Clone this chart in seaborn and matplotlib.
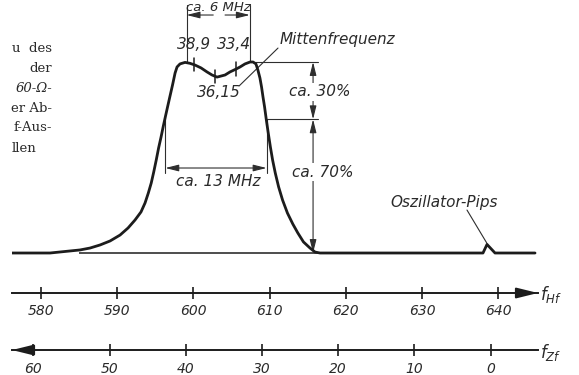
import numpy as np
import pandas as pd
import matplotlib
matplotlib.use("Agg")
import matplotlib.pyplot as plt
import seaborn as sns

# ---------------- data ----------------
# pass-band curve: HF frequency (MHz) and relative amplitude (peak = 1)
curve_f = [576.19, 581.18, 585.12, 586.43, 587.74, 589.06, 590.37, 591.42,
           592.34, 593.12, 593.65, 594.08, 594.46, 594.79, 595.12, 595.43,
           595.75, 596.05, 596.31, 596.60, 596.90, 597.26, 597.59, 597.85,
           598.24, 598.90, 599.55, 600.21, 601.00, 601.78, 602.44, 603.10,
           604.15, 604.80, 605.59, 606.12, 606.77, 607.43, 607.82, 608.20,
           608.46, 608.73, 608.94, 609.13, 609.34, 609.57, 609.82, 610.10,
           610.39, 610.74, 611.18, 611.70, 612.34, 613.04, 613.70, 614.44,
           615.30, 615.96, 616.61, 638.00, 638.53, 639.58, 644.83]
curve_a = [0.0, 0.0, 0.016, 0.026, 0.042, 0.063, 0.094, 0.131,
           0.173, 0.215, 0.262, 0.314, 0.366, 0.424, 0.487, 0.550,
           0.607, 0.665, 0.712, 0.764, 0.817, 0.880, 0.942, 0.974,
           0.990, 0.998, 0.993, 0.984, 0.969, 0.948, 0.932, 0.921,
           0.932, 0.948, 0.963, 0.974, 0.990, 1.0, 1.0, 0.990,
           0.958, 0.916, 0.869, 0.817, 0.764, 0.696, 0.628, 0.555,
           0.487, 0.419, 0.346, 0.277, 0.209, 0.152, 0.105, 0.058,
           0.026, 0.005, 0.0, 0.0, 0.045, 0.0, 0.0]

hf_ticks = [580, 590, 600, 610, 620, 630, 640]
zf_ticks = [60, 50, 40, 30, 20, 10, 0]
osc_freq = 639.0                      # f_Zf = osc_freq - f_Hf

marker_zf = [38.9, 36.15, 33.4]
marker_lbl = ["38,9", "36,15", "33,4"]
peak_f = [599.1, 607.4]               # the two humps (6 MHz dimension)
level_70 = 0.7                        # 30 % below the peaks
bw_f = [596.31, 609.6]                # ca. 13 MHz width
pip_f = 638.53

# ---------------- style ----------------
sns.set_theme(style="white")
plt.rcParams["font.family"] = ["DejaVu Sans"]
dark = "#1c1c1c"
thin = "#2e2e2e"
txt = "#2a2a2a"

fig = plt.figure(figsize=(5.79, 3.75), dpi=100)
fig.patch.set_facecolor("white")
ax = fig.add_axes([12 / 579, 0.0, 526 / 579, 1.0])
ax.set_facecolor("white")
ax.set_xlim(576.19, 645.22)
ax.set_ylim(-0.6387, 1.3246)

df = pd.DataFrame({"f": curve_f, "a": curve_a})
sns.lineplot(data=df, x="f", y="a", ax=ax, color=dark, linewidth=2.0,
             sort=False, legend=False, zorder=5)
for ln in ax.lines:
    ln.set_solid_joinstyle("round")
    ln.set_solid_capstyle("round")
ax.hlines(0, 585.0, 617.0, color=dark, lw=1.1, zorder=4)
ax.set_xlabel("")
ax.set_ylabel("")
ax.set_yticks([])

# ---------------- HF scale (primary x axis) ----------------
a_hf = -0.2094
for s in ["left", "right", "top"]:
    ax.spines[s].set_visible(False)
ax.spines["bottom"].set_position(("data", a_hf))
ax.spines["bottom"].set_linewidth(1.4)
ax.spines["bottom"].set_color(dark)
ax.set_xticks(hf_ticks)
ax.set_xticklabels([str(t) for t in hf_ticks])
ax.tick_params(axis="x", direction="inout", length=8.5, width=1.2,
               color=dark, labelsize=10, labelcolor=txt, pad=3.5, bottom=True)
for lbl in ax.get_xticklabels():
    lbl.set_fontstyle("italic")
ax.annotate("", xy=(645.22, a_hf), xytext=(643.0, a_hf),
            arrowprops=dict(arrowstyle="-|>,head_length=1.3,head_width=0.32",
                            color=dark, lw=1.4, shrinkA=0, shrinkB=0,
                            mutation_scale=10),
            annotation_clip=False)
ax.text(645.5, a_hf - 0.01, r"$f_{Hf}$", fontsize=12, color=txt,
        ha="left", va="center", clip_on=False)

# ---------------- ZF scale (secondary x axis) ----------------
a_zf = -0.508
zf_pos = (a_zf - ax.get_ylim()[0]) / (ax.get_ylim()[1] - ax.get_ylim()[0])
sec = ax.secondary_xaxis(zf_pos, functions=(lambda f: osc_freq - f,
                                            lambda z: osc_freq - z))
sec.spines["top"].set_visible(False)
sec.spines["bottom"].set_linewidth(1.4)
sec.spines["bottom"].set_color(dark)
sec.set_xticks(zf_ticks)
sec.set_xticklabels([str(t) for t in zf_ticks])
sec.tick_params(axis="x", direction="inout", length=8.5, width=1.2,
                color=dark, labelsize=10, labelcolor=txt, pad=4.4)
for lbl in sec.get_xticklabels():
    lbl.set_fontstyle("italic")
ax.annotate("", xy=(576.19, a_zf), xytext=(578.2, a_zf),
            arrowprops=dict(arrowstyle="-|>,head_length=1.3,head_width=0.32",
                            color=dark, lw=1.4, shrinkA=0, shrinkB=0,
                            mutation_scale=10),
            annotation_clip=False)
ax.text(645.5, a_zf - 0.015, r"$f_{Zf}$", fontsize=12, color=txt,
        ha="left", va="center", clip_on=False)

# ---------------- annotations ----------------
afs = 11
arrow_kw = dict(color=thin, lw=0.8, shrinkA=0, shrinkB=0, mutation_scale=10)


def dim(x0, y0, x1, y1, style="<|-|>,head_length=0.8,head_width=0.2"):
    ax.annotate("", xy=(x1, y1), xytext=(x0, y0),
                arrowprops=dict(arrowstyle=style, **arrow_kw),
                annotation_clip=False)


# marker ticks on the curve
for zf, lab in zip(marker_zf, marker_lbl):
    fh = osc_freq - zf
    ah = np.interp(fh, curve_f, curve_a)
    ax.plot([fh, fh], [ah - 0.035, ah + 0.035], color=dark, lw=1.1, zorder=6)

ax.text(osc_freq - marker_zf[0], 1.094, marker_lbl[0], fontsize=afs,
        style="italic", color=txt, ha="center", va="center")
ax.text(osc_freq - marker_zf[2] - 0.3, 1.094, marker_lbl[2], fontsize=afs,
        style="italic", color=txt, ha="center", va="center")
ax.text(603.36, 0.838, marker_lbl[1], fontsize=afs, style="italic",
        color=txt, ha="center", va="center")

# 6 MHz dimension at the top (extension lines from the humps)
for pf in peak_f:
    ax.plot([pf, pf], [1.0, 1.30], color=thin, lw=0.8, clip_on=False)
one = "-|>,head_length=0.8,head_width=0.2"
dim(602.6, 1.246, peak_f[0], 1.246, one)
dim(604.15, 1.246, peak_f[1], 1.246, one)
ax.text(603.3, 1.3215, "ca. 6 MHz", fontsize=9.5, style="italic", color=txt,
        ha="center", va="top", clip_on=False)

# Mittenfrequenz label and leader
ax.text(618.85, 1.12, "Mittenfrequenz", fontsize=afs, style="italic",
        color=txt, ha="center", va="center")
ax.plot([611.1, 605.98], [1.073, 0.874], color=thin, lw=0.8)

# 30 % / 70 % dimension on the right flank
ax.plot([608.1, 616.35], [1.0, 1.0], color=thin, lw=0.8)
ax.plot([bw_f[1], 616.35], [level_70, level_70], color=thin, lw=0.8)
dim(615.7, 1.0, 615.7, level_70)
dim(615.7, level_70, 615.7, 0.0)
ax.text(616.6, 0.843, "ca. 30%", fontsize=afs, style="italic", color=txt,
        ha="center", va="center", zorder=7,
        bbox=dict(facecolor="white", edgecolor="none", pad=1.0))
ax.text(617.0, 0.424, "ca. 70%", fontsize=afs, style="italic", color=txt,
        ha="center", va="center", zorder=7,
        bbox=dict(facecolor="white", edgecolor="none", pad=1.0))

# ca. 13 MHz width at the 70 % level
ax.plot([bw_f[0], bw_f[0]], [0.712, 0.419], color=thin, lw=0.8)
ax.plot([bw_f[1], bw_f[1]], [level_70, 0.419], color=thin, lw=0.8)
dim(bw_f[0], 0.445, bw_f[1], 0.445)
ax.text(603.23, 0.372, "ca. 13 MHz", fontsize=afs, style="italic",
        color=txt, ha="center", va="center")

# Oszillator-Pips
ax.text(632.89, 0.262, "Oszillator-Pips", fontsize=afs, style="italic",
        color=txt, ha="center", va="center")
ax.plot([635.9, pip_f], [0.225, 0.05], color=thin, lw=0.8)

# fragments of the surrounding book text at the left edge
serif = ["DejaVu Serif"]
frag = [("u  des", 48, "right", "normal"), ("der", 68, "right", "normal"),
        ("60-Ω-", 88, "right", "italic"), ("er Ab-", 108, "right", "normal"),
        ("f-Aus-", 128, "right", "normal"), ("llen", 148, "left", "normal")]
for s, ypx, ha, st in frag:
    xpx = 52 if ha == "right" else 12
    fig.text(xpx / 579, 1 - ypx / 375, s, family=serif, fontsize=9.5,
             style=st, color=txt, ha=ha, va="center")

fig.savefig("out.png", dpi=100, facecolor="white")
